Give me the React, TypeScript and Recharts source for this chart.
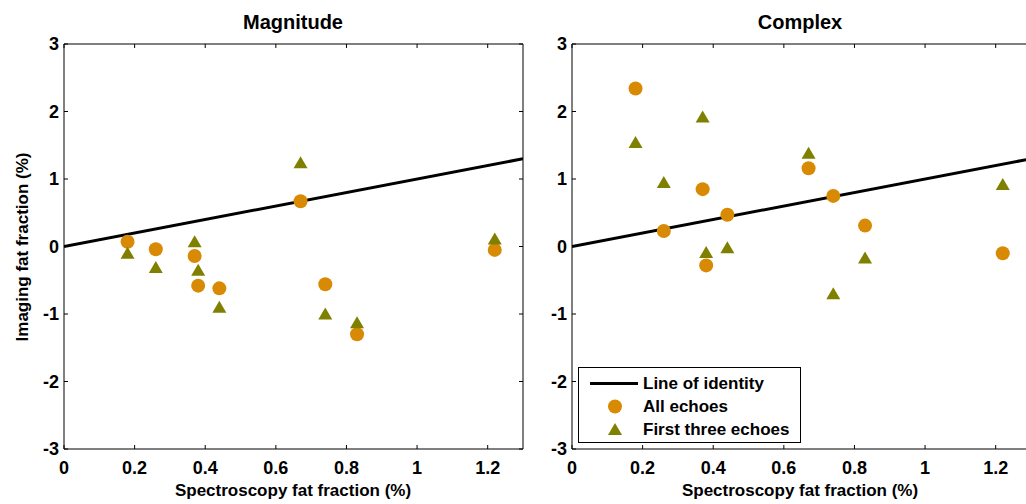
import React from 'react';
import { ScatterChart, Scatter, XAxis, YAxis } from 'recharts';

const spectroscopy = [0.18, 0.26, 0.37, 0.38, 0.44, 0.67, 0.74, 0.83, 1.22];
const magAllEchoes = [0.07, -0.04, -0.14, -0.58, -0.62, 0.67, -0.56, -1.3, -0.05];
const magFirstThree = [-0.1, -0.31, 0.07, -0.35, -0.9, 1.24, -1.0, -1.13, 0.11];
const cplxAllEchoes = [2.34, 0.23, 0.85, -0.28, 0.47, 1.16, 0.75, 0.31, -0.1];
const cplxFirstThree = [1.54, 0.95, 1.92, -0.09, -0.02, 1.38, -0.7, -0.17, 0.92];
const identityX = [0, 1.3];
const xTicks = [0, 0.2, 0.4, 0.6, 0.8, 1, 1.2];
const yTicks = [-3, -2, -1, 0, 1, 2, 3];
const titles = ['Magnitude', 'Complex'];
const legendLabels = ['Line of identity', 'All echoes', 'First three echoes'];

const ORANGE = '#D98A05';
const OLIVE = '#808000';
const FONT = '"Liberation Sans", Arial, Helvetica, sans-serif';

const toPoints = (ys: number[]) => spectroscopy.map((x, i) => ({ x, y: ys[i] }));
const identity = identityX.map((v) => ({ x: v, y: v }));

const Circle = (p: any) => <circle cx={p.cx} cy={p.cy} r={7} fill={ORANGE} />;
const Tri = (p: any) => (
  <polygon
    points={`${p.cx},${p.cy - 6.5} ${p.cx - 7},${p.cy + 5.5} ${p.cx + 7},${p.cy + 5.5}`}
    fill={OLIVE}
  />
);
const Empty = () => <g />;

const tickStyle = { fill: '#000', fontSize: 18, fontWeight: 700, fontFamily: FONT };

function Panel({ all, first, left }: { all: number[]; first: number[]; left: number }) {
  return (
    <div style={{ position: 'absolute', left, top: 0 }}>
      <ScatterChart width={530} height={504} margin={{ top: 43, right: 6, bottom: 0, left: 0 }}>
        <XAxis
          type="number"
          dataKey="x"
          domain={[0, 1.3]}
          ticks={xTicks}
          height={55}
          tickSize={-4}
          tickMargin={16}
          tick={tickStyle}
          axisLine={{ stroke: '#000' }}
          tickLine={{ stroke: '#000' }}
          allowDataOverflow
        />
        <XAxis
          xAxisId="top"
          orientation="top"
          type="number"
          dataKey="x"
          domain={[0, 1.3]}
          ticks={xTicks}
          height={1}
          tickSize={-4}
          tick={Empty}
          axisLine={{ stroke: '#000' }}
          tickLine={{ stroke: '#000' }}
          allowDataOverflow
        />
        <YAxis
          type="number"
          dataKey="y"
          domain={[-3, 3]}
          ticks={yTicks}
          width={64}
          tickSize={-4}
          tickMargin={9}
          tick={tickStyle}
          axisLine={{ stroke: '#000' }}
          tickLine={{ stroke: '#000' }}
          allowDataOverflow
        />
        <YAxis
          yAxisId="right"
          orientation="right"
          type="number"
          dataKey="y"
          domain={[-3, 3]}
          ticks={yTicks}
          width={1}
          tickSize={-4}
          tick={Empty}
          axisLine={{ stroke: '#000' }}
          tickLine={{ stroke: '#000' }}
          allowDataOverflow
        />
        <Scatter
          data={identity}
          line={{ stroke: '#000', strokeWidth: 3 }}
          lineType="joint"
          shape={Empty}
          isAnimationActive={false}
        />
        <Scatter data={toPoints(all)} shape={Circle} isAnimationActive={false} />
        <Scatter data={toPoints(first)} shape={Tri} isAnimationActive={false} />
      </ScatterChart>
    </div>
  );
}

const textBase: React.CSSProperties = {
  position: 'absolute',
  fontFamily: FONT,
  fontWeight: 700,
  color: '#000',
  whiteSpace: 'nowrap',
  lineHeight: 1,
};

function CenterText({ x, y, size, children, rotate }: any) {
  return (
    <div
      style={{
        ...textBase,
        left: x,
        top: y,
        fontSize: size,
        transform: `translate(-50%, -50%)${rotate ? ' rotate(-90deg)' : ''}`,
      }}
    >
      {children}
    </div>
  );
}

export default function App() {
  return (
    <div
      style={{
        position: 'absolute',
        left: 0,
        top: 0,
        width: 1026,
        height: 504,
        overflow: 'hidden',
        background: '#fff',
      }}
    >
      <Panel all={magAllEchoes} first={magFirstThree} left={0} />
      <Panel all={cplxAllEchoes} first={cplxFirstThree} left={508} />
      <CenterText x={293} y={22} size={20}>{titles[0]}</CenterText>
      <CenterText x={800} y={22} size={20}>{titles[1]}</CenterText>
      <CenterText x={293} y={490} size={17}>Spectroscopy fat fraction (%)</CenterText>
      <CenterText x={800} y={490} size={17}>Spectroscopy fat fraction (%)</CenterText>
      <CenterText x={22} y={247} size={17} rotate>Imaging fat fraction (%)</CenterText>
      <div
        style={{
          position: 'absolute',
          left: 578,
          top: 367,
          width: 221,
          height: 74,
          border: '1px solid #000',
          background: '#fff',
          fontFamily: FONT,
          fontWeight: 700,
          fontSize: 17,
        }}
      >
        {legendLabels.map((label, i) => (
          <div
            key={label}
            style={{ position: 'absolute', left: 0, top: 4 + i * 23, height: 23, width: 221 }}
          >
            <svg width={60} height={23} style={{ position: 'absolute', left: 0, top: 0 }}>
              {i === 0 && <line x1={11} x2={59} y1={11.5} y2={11.5} stroke="#000" strokeWidth={3} />}
              {i === 1 && <circle cx={36} cy={11.5} r={7} fill={ORANGE} />}
              {i === 2 && <polygon points="36,5 29,17 43,17" fill={OLIVE} />}
            </svg>
            <span style={{ position: 'absolute', left: 64, top: 3, lineHeight: 1 }}>{label}</span>
          </div>
        ))}
      </div>
    </div>
  );
}
